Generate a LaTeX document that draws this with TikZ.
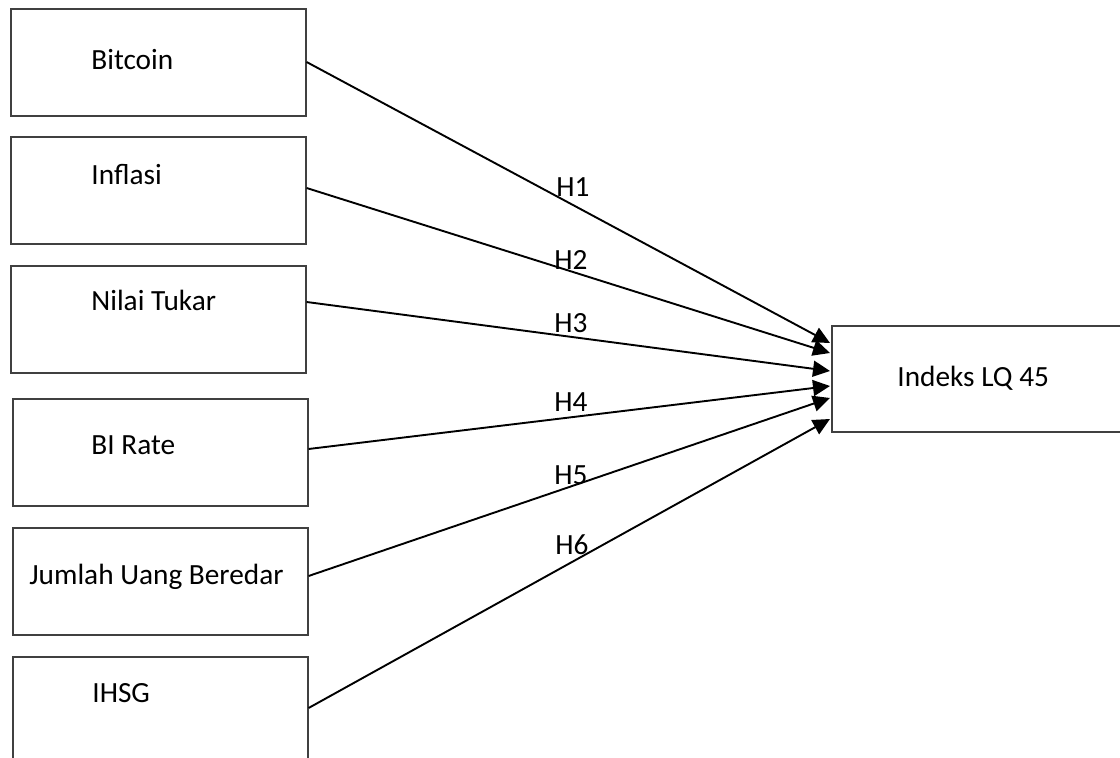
\documentclass[tikz,border=0pt]{standalone}
\usepackage{fontspec}
\setmainfont{Carlito}
\usetikzlibrary{arrows.meta,calc}
\begin{document}
\begin{tikzpicture}[x=0.5pt,y=-0.5pt,
  box/.style={draw=black!75, line width=0.8pt, rectangle, inner sep=0pt, anchor=north west, minimum width=147.5pt, minimum height=53.5pt},
  txt/.style={inner sep=0pt, anchor=base west, font=\fontsize{14.65}{17}\selectfont},
  arr/.style={line width=0.95pt, -{Triangle[length=8.5pt,width=8pt]}}]
\useasboundingbox (0,0) rectangle (1120,758);
\clip (0,0) rectangle (1120,758);
% source boxes
\node[box] (b1) at (10,8) {};
\node[box] (b2) at (10,136) {};
\node[box] (b3) at (10,265) {};
\node[box] (b4) at (12,398) {};
\node[box] (b5) at (12,527) {};
\node[box] (b6) at (12,656) {};
% target box
\node[box, minimum width=150pt, minimum height=53pt] (t) at (831,325) {};
% texts
\node[txt] (tx1) at (91,70) {Bitcoin};
\node[txt] (tx2) at (91,185) {Inflasi};
\node[txt] (tx3) at (91,311) {Nilai Tukar};
\node[txt] (tx4) at (91,455) {BI Rate};
\node[txt] (tx5) at (29,585) {Jumlah Uang Beredar};
\node[txt] (tx6) at (92,703) {IHSG};
\node[txt] (txt) at (897,387) {Indeks LQ 45};
% arrow end points on target
\coordinate (e1) at (830,343);
\coordinate (e2) at (830,353);
\coordinate (e3) at (830,371);
\coordinate (e4) at (830,386);
\coordinate (e5) at (830,398);
\coordinate (e6) at (830,419);
% arrows
\draw[arr] ($(b1.north east)+(0,54)$) -- (e1);
\draw[arr] ($(b2.north east)+(0,52)$) -- (e2);
\draw[arr] ($(b3.north east)+(0,37)$) -- (e3);
\draw[arr] ($(b4.north east)+(0,51)$) -- (e4);
\draw[arr] ($(b5.north east)+(0,49)$) -- (e5);
\draw[arr] ($(b6.north east)+(0,52)$) -- (e6);
% labels
\node[txt] (h1) at (556,197) {H1};
\node[txt] (h2) at (554,270) {H2};
\node[txt] (h3) at (554,333) {H3};
\node[txt] (h4) at (554,412) {H4};
\node[txt] (h5) at (554,485) {H5};
\node[txt] (h6) at (555,555) {H6};
\end{tikzpicture}
\end{document}
